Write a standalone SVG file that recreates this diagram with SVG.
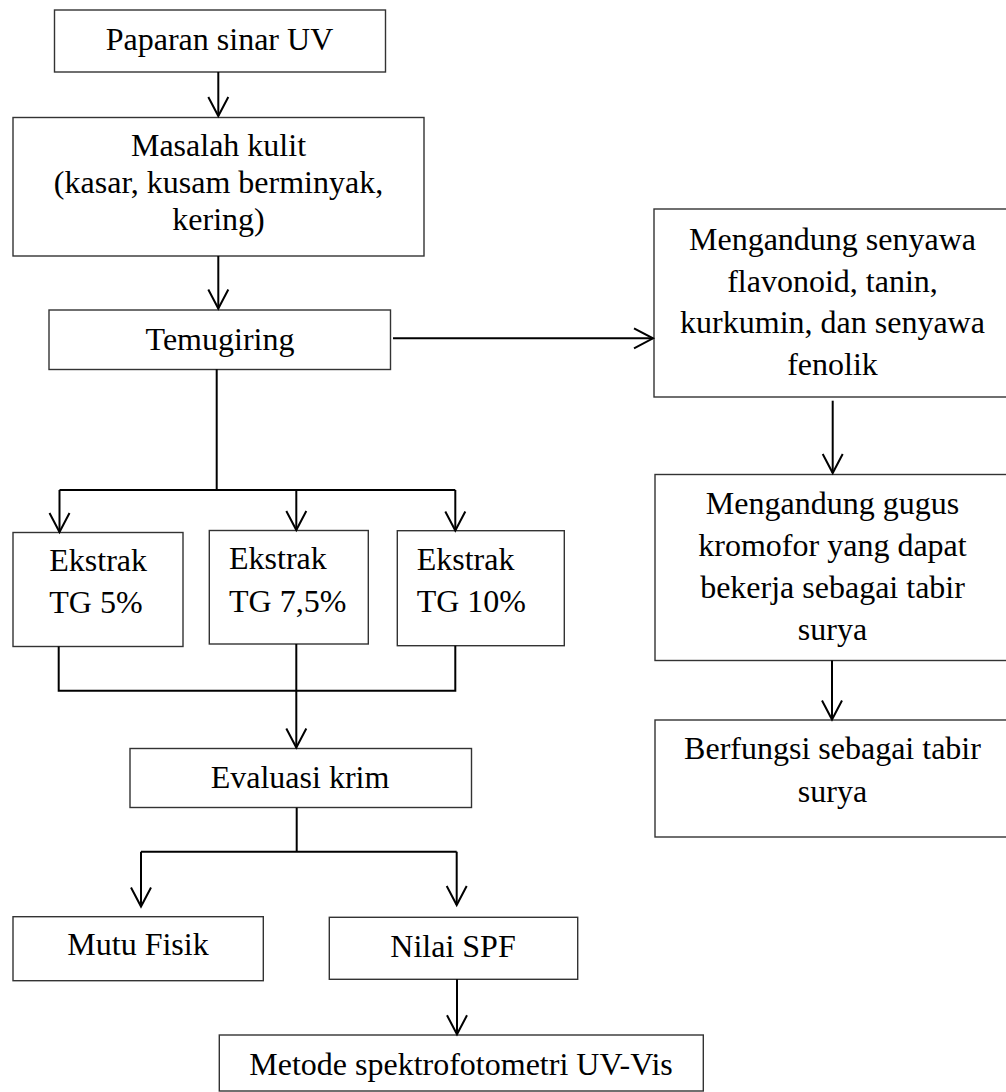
<svg xmlns="http://www.w3.org/2000/svg" width="1006" height="1092" viewBox="0 0 1006 1092">
<style>
.box{fill:#fff;stroke:#333;stroke-width:1.4}
.t{font-family:"Liberation Serif","Times New Roman",serif;font-size:32px;fill:#000}
.c{text-anchor:middle}
.ln{fill:none;stroke:#000;stroke-width:2}
.ar{fill:none;stroke:#000;stroke-width:2;marker-end:url(#v)}
</style>
<defs>
<marker id="v" markerUnits="userSpaceOnUse" markerWidth="40" markerHeight="40" refX="0" refY="0" orient="auto" overflow="visible">
<path d="M-19,-10 L0,0 L-19,10" fill="none" stroke="#000" stroke-width="2"/>
</marker>
</defs>
<rect width="1006" height="1092" fill="#fff"/>
<g id="n1"><rect class="box" x="54.5" y="10" width="331" height="62"/><text class="t c" x="219.5" y="49.5">Paparan sinar UV</text></g>
<g id="n2"><rect class="box" x="13" y="117.5" width="411" height="138.5"/>
<text class="t c" x="218.5" y="156">Masalah kulit</text>
<text class="t c" x="218.5" y="193">(kasar, kusam berminyak,</text>
<text class="t c" x="218.5" y="230">kering)</text></g>
<g id="n3"><rect class="box" x="49" y="310" width="341.5" height="59.5"/><text class="t c" x="220" y="349.5">Temugiring</text></g>
<g id="n4"><rect class="box" x="654" y="209" width="360" height="188"/>
<text class="t c" x="832.5" y="250">Mengandung senyawa</text>
<text class="t c" x="832.5" y="291.5">flavonoid, tanin,</text>
<text class="t c" x="832.5" y="333">kurkumin, dan senyawa</text>
<text class="t c" x="832.5" y="375">fenolik</text></g>
<g id="n5"><rect class="box" x="655" y="474.5" width="360" height="186"/>
<text class="t c" x="832.5" y="514">Mengandung gugus</text>
<text class="t c" x="832.5" y="556">kromofor yang dapat</text>
<text class="t c" x="832.5" y="598">bekerja sebagai tabir</text>
<text class="t c" x="832.5" y="640">surya</text></g>
<g id="n6"><rect class="box" x="655" y="720" width="360" height="117"/>
<text class="t c" x="832.5" y="759">Berfungsi sebagai tabir</text>
<text class="t c" x="832.5" y="801.5">surya</text></g>
<g id="n7"><rect class="box" x="13" y="532.5" width="170" height="114"/>
<text class="t" x="49.3" y="571">Ekstrak</text><text class="t" x="49.3" y="613">TG 5%</text></g>
<g id="n8"><rect class="box" x="209.3" y="530.5" width="159" height="113.5"/>
<text class="t" x="229" y="569">Ekstrak</text><text class="t" x="229" y="611.5">TG 7,5%</text></g>
<g id="n9"><rect class="box" x="397.3" y="530.7" width="167" height="115"/>
<text class="t" x="416.7" y="570">Ekstrak</text><text class="t" x="416.7" y="611.5">TG 10%</text></g>
<g id="n10"><rect class="box" x="130" y="748.5" width="341.5" height="59"/><text class="t c" x="300" y="788.3">Evaluasi krim</text></g>
<g id="n11"><rect class="box" x="13" y="916.7" width="250.3" height="64"/><text class="t c" x="138" y="955">Mutu Fisik</text></g>
<g id="n12"><rect class="box" x="329.3" y="917.3" width="248.4" height="62"/><text class="t c" x="453" y="956.7">Nilai SPF</text></g>
<g id="n13"><rect class="box" x="219.3" y="1035" width="484" height="56"/><text class="t c" x="461" y="1075">Metode spektrofotometri UV-Vis</text></g>
<g id="connectors">
<line class="ar" x1="218.3" y1="72" x2="218.3" y2="116"/>
<line class="ar" x1="218.3" y1="256" x2="218.3" y2="308.5"/>
<line class="ar" x1="393" y1="338.3" x2="653" y2="338.3"/>
<polyline class="ln" points="216.7,369.3 216.7,490"/>
<line class="ln" x1="59.5" y1="490" x2="455.3" y2="490"/>
<line class="ar" x1="59.5" y1="490" x2="59.5" y2="532"/>
<line class="ar" x1="296.3" y1="490" x2="296.3" y2="530"/>
<line class="ar" x1="455.3" y1="490" x2="455.3" y2="530.5"/>
<polyline class="ln" points="58.7,646.5 58.7,690.7 455.3,690.7 455.3,645.7"/>
<line class="ar" x1="296.3" y1="644" x2="296.3" y2="747.5"/>
<line class="ar" x1="832.7" y1="400.7" x2="832.7" y2="473"/>
<line class="ar" x1="832" y1="660.5" x2="832" y2="719.5"/>
<line class="ln" x1="296.7" y1="807.7" x2="296.7" y2="851.7"/>
<line class="ln" x1="141" y1="851.7" x2="456.7" y2="851.7"/>
<line class="ar" x1="141" y1="851.7" x2="141" y2="906.5"/>
<line class="ar" x1="456.7" y1="851.7" x2="456.7" y2="905"/>
<line class="ar" x1="457" y1="979.3" x2="457" y2="1034.3"/>
</g>
</svg>
